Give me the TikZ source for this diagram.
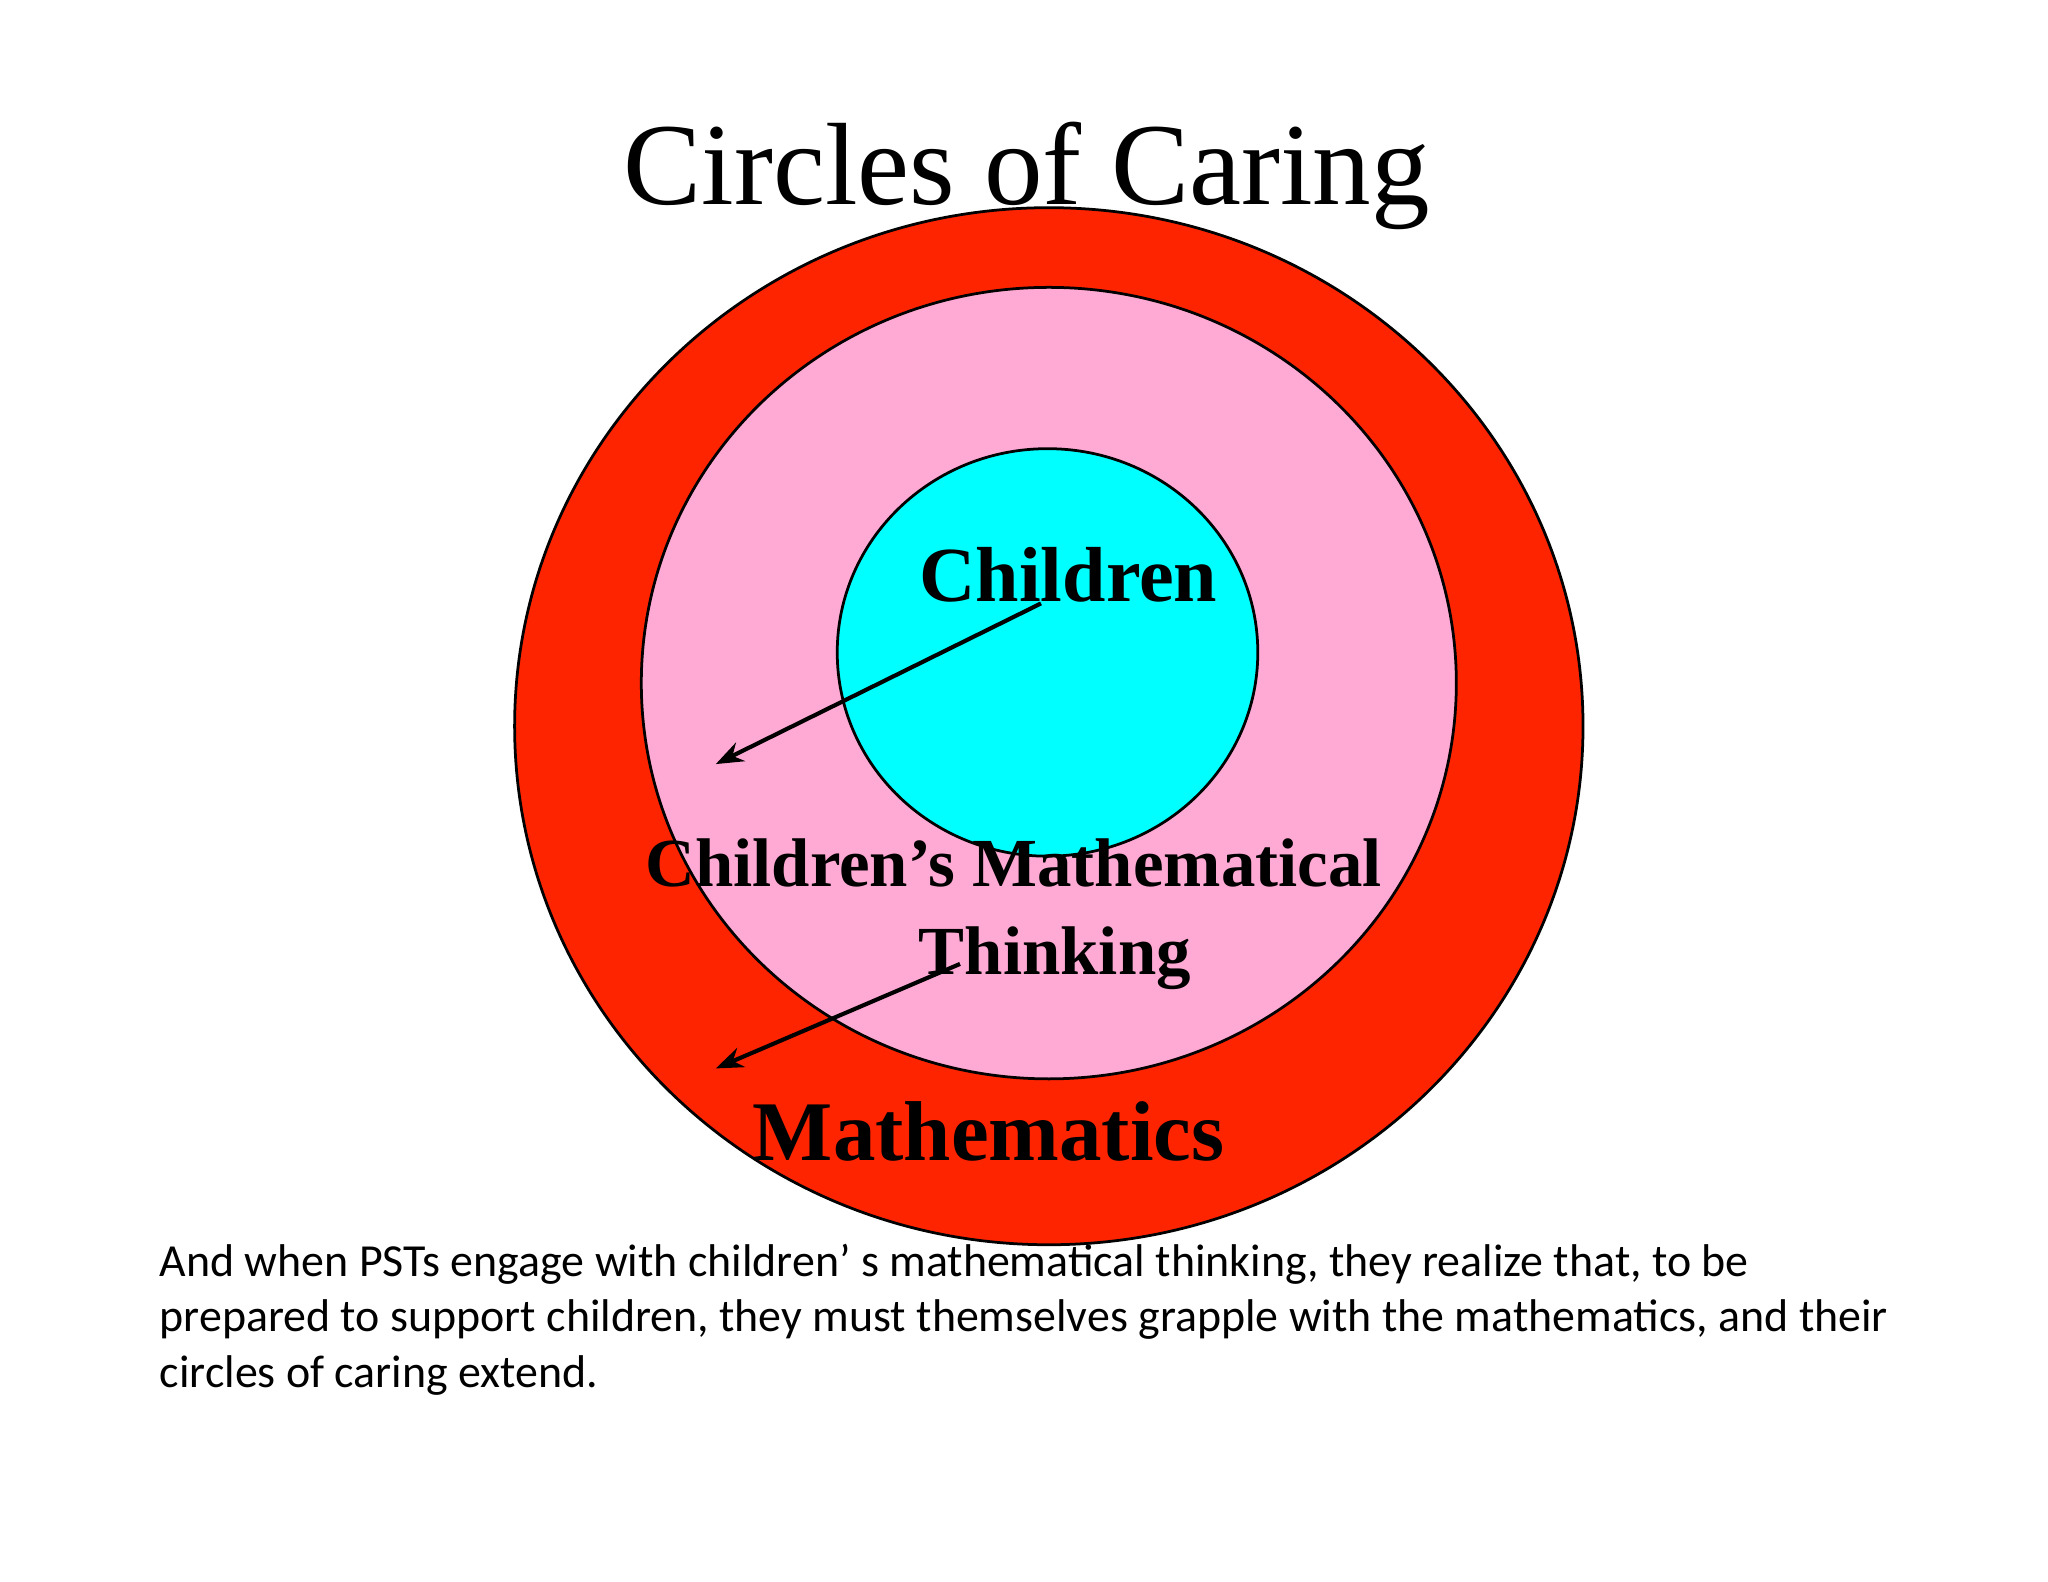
\documentclass[tikz,border=0pt]{standalone}
\usepackage{fontspec}
\setmainfont{Liberation Serif}
\newfontfamily\bodyfont{Carlito}
\usetikzlibrary{arrows.meta}
\definecolor{ringred}{HTML}{FF2400}
\definecolor{ringpink}{HTML}{FFAAD5}
\definecolor{ringcyan}{HTML}{00FFFF}
\begin{document}
\begin{tikzpicture}[x=0.02cm,y=-0.02cm,
  ring/.style={draw=black,line width=1.2pt},
  lbl/.style={font=\bfseries,align=center,inner sep=0pt},
  arr/.style={line width=1.8pt,-{Stealth[length=12pt,width=9pt]}}]
\useasboundingbox (0,0) rectangle (1568,1211);
\fill[white] (0,0) rectangle (1568,1211);
\draw[ring,fill=ringred] (803,556) ellipse [x radius=409,y radius=397];
\draw[ring,fill=ringpink] (803,523) ellipse [x radius=312,y radius=303];
\draw[ring,fill=ringcyan] (802,499.5) ellipse [x radius=161,y radius=156];
\node[inner sep=0pt,font=\fontsize{51}{60}\selectfont] (title) at (786,135) {Circles of Caring};
\node[lbl,font=\fontsize{34}{40}\selectfont\bfseries] (child) at (818,440) {Children};
\node[lbl,font=\fontsize{30}{38}\selectfont\bfseries] (cmt) at (776,700) {Children's Mathematical\\\hspace*{1.2em}Thinking};
\node[lbl,font=\fontsize{37}{44}\selectfont\bfseries] (math) at (757,866) {Mathematics};
\coordinate (a1s) at (797,462);
\coordinate (a1e) at (548,585);
\coordinate (a2s) at (735,738);
\coordinate (a2e) at (548,818);
\draw[arr] (a1s) -- (a1e);
\draw[arr] (a2s) -- (a2e);
\node[anchor=north west,inner sep=0pt,align=left,font=\bodyfont\fontsize{20}{24.2}\selectfont] (body) at (122,952)
{And when PSTs engage with children\textquoteright\ s mathematical thinking, they realize that, to be\\
prepared to support children, they must themselves grapple with the mathematics, and their\\
circles of caring extend.};
\end{tikzpicture}
\end{document}
